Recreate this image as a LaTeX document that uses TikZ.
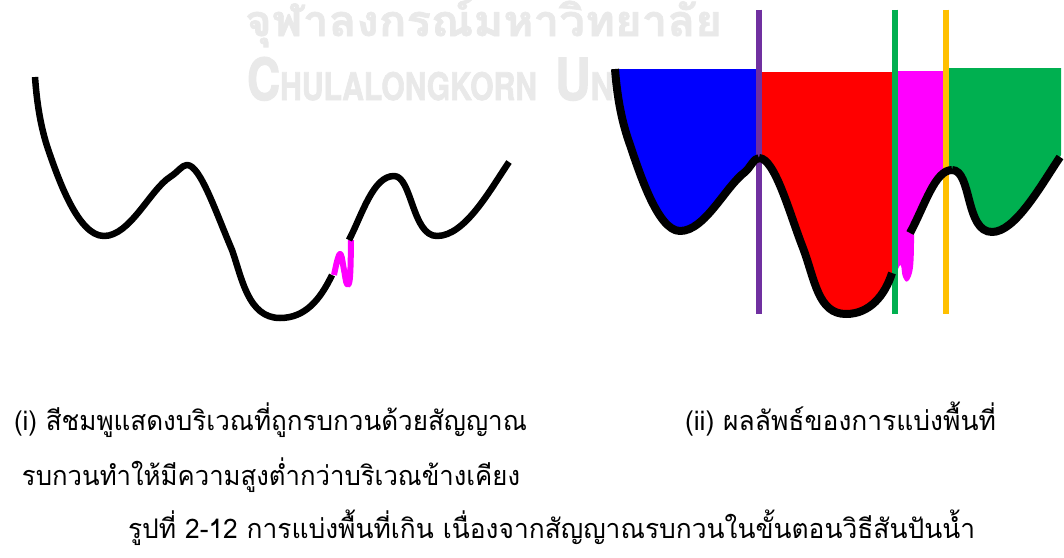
\documentclass[tikz,border=0pt]{standalone}
\usepackage{graphicx}
\usepackage{fontspec}
\newfontfamily\thaifont[Script=Thai]{Loma}
\newfontfamily\thaiwm[Script=Thai,BoldFeatures={FakeBold=1.5}]{Loma}
\newfontfamily\wmfont[BoldFeatures={FakeBold=2}]{TeX Gyre Heros}
\definecolor{wmgray}{HTML}{E9E9E9}
\definecolor{cpurple}{HTML}{7030A0}
\definecolor{cgreen}{HTML}{00B050}
\definecolor{corange}{HTML}{FFC000}
\definecolor{cmag}{HTML}{FF00FF}
\tikzset{
  ridgeL/.style={line width=6.5pt,black,line join=round},
  ridgeR/.style={line width=8pt,black,line join=round},
  divider/.style={line width=6pt},
  caption/.style={anchor=base west,inner sep=0pt,outer sep=0pt},
  wm/.style={anchor=base west,inner sep=0pt,outer sep=0pt,text=wmgray}
}
\newcommand{\capt}[2]{\resizebox{#1pt}{\height}{\fontsize{27}{30}\thaifont #2}}
\newcommand{\blueedge}{(615,69) .. controls (617,95) and (621,118) .. (628,139) .. controls (638,168) and (657,231) .. (680,231) .. controls (705,231) and (725,187) .. (745,172) .. controls (750,168) and (754,158) .. (759,158)}
\newcommand{\rededge}{(759,158) .. controls (775,158) and (790,215) .. (803,248) .. controls (815,280) and (818,314) .. (846,314) .. controls (870,314) and (885,295) .. (892,273)}
\newcommand{\greenedge}{(952,170) .. controls (972,170) and (965,232) .. (992,232) .. controls (1015,232) and (1040,187) .. (1060,157)}
\begin{document}
\begin{tikzpicture}[x=1pt,y=-1pt]
\useasboundingbox (0,0) rectangle (1064,557);
\clip (0,0) rectangle (1064,557);
% watermark
\node[wm] (wmth) at (245,36) {\resizebox{477pt}{\height}{\fontsize{43}{46}\thaiwm\bfseries จุฬาลงกรณ์มหาวิทยาลัย}};
\node[wm] (wmen) at (247,100) {\resizebox{290pt}{\height}{\wmfont\bfseries\fontsize{58}{60}\selectfont C\fontsize{38}{60}\selectfont HULALONGKORN}};
\node[wm] (wmen2) at (555,100) {\scalebox{.85}[1]{\wmfont\bfseries\fontsize{58}{60}\selectfont U\fontsize{38}{60}\selectfont NIVERSITY}};
% left profile
\draw[ridgeL] (35,77) .. controls (37,105) and (41,128) .. (48,149) .. controls (58,178) and (78,236) .. (104,236) .. controls (130,236) and (150,190) .. (170,177) .. controls (178,172) and (182,165) .. (187,165) .. controls (200,165) and (215,210) .. (232,250) .. controls (242,278) and (248,318) .. (280,318) .. controls (305,318) and (320,300) .. (332,275);
\draw[cmag,line width=6pt,line join=round] plot[smooth,tension=.7] coordinates {(334,275) (338,258) (341,255) (344,270) (347,284) (350,277) (351,240)};
\draw[ridgeL] (349,240) .. controls (362,215) and (373,176) .. (394,176) .. controls (412,176) and (412,236) .. (437,236) .. controls (465,236) and (490,190) .. (509,162);
% right fills
\fill[blue] \blueedge -- (757,69) -- cycle;
\fill[red] \rededge -- (892,72) -- (760,72) -- cycle;
\fill[cmag] (896,71) -- (944,71) -- (944,173) .. controls (930,185) and (925,205) .. (912,233) -- plot[smooth,tension=.7] coordinates {(914,235) (913,267) (908,281) (903,277) (900.7,265) (897,272)} -- cycle;
\fill[cgreen] \greenedge -- (1061,155) -- (1061,68) -- (948,68) -- (948,172) -- cycle;
% dividers
\coordinate (pt) at (758.7,9.5); \coordinate (pb) at (758.7,314);
\coordinate (gt) at (894.5,9.5); \coordinate (gb) at (894.5,314);
\coordinate (ot) at (946,9.5); \coordinate (ob) at (946,314);
\draw[divider,cpurple] (pt) -- (pb);
\draw[divider,cgreen] (gt) -- (gb);
\draw[divider,corange] (ot) -- (ob);
% right profile
\draw[ridgeR] \blueedge;
\draw[ridgeR] \rededge;
\draw[ridgeR] (910,233) .. controls (925,205) and (935,170) .. (952,170);
\draw[ridgeR] \greenedge;
% captions
\node[caption] (c1) at (14,430) {\capt{513}{(i) สีชมพูแสดงบริเวณที่ถูกรบกวนด้วยสัญญาณ}};
\node[caption] (c2) at (685,430) {\capt{311}{(ii) ผลลัพธ์ของการแบ่งพื้นที่}};
\node[caption] (c3) at (22,485) {\capt{498}{รบกวนทำให้มีความสูงต่ำกว่าบริเวณข้างเคียง}};
\node[caption] (c4) at (128,538) {\capt{847}{รูปที่ 2-12 การแบ่งพื้นที่เกิน เนื่องจากสัญญาณรบกวนในขั้นตอนวิธีสันปันน้ำ}};
\end{tikzpicture}
\end{document}
